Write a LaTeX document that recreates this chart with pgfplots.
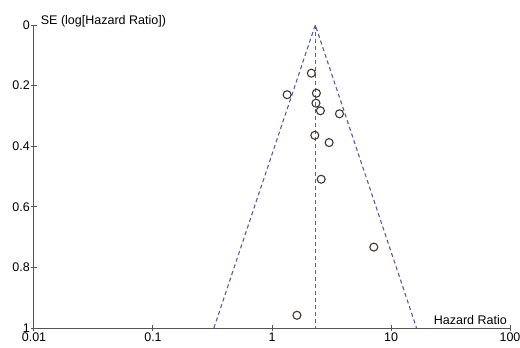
\documentclass[border=0pt]{standalone}
\usepackage{fontspec}
\setmainfont{Liberation Sans}
\usepackage{pgfplots}
\pgfplotsset{compat=1.18}
\definecolor{ptcol}{HTML}{3F3935}
\definecolor{lncol}{HTML}{5B58A8}
\definecolor{axcol}{HTML}{555555}
\begin{document}
\begin{tikzpicture}
\path[use as bounding box] (-34bp,-20bp) rectangle (486bp,328bp);
\begin{axis}[
  at={(0,0)}, anchor=south west,
  scale only axis, width=476bp, height=303bp,
  xmode=log, xmin=0.01, xmax=100,
  ymin=0, ymax=1, y dir=reverse,
  axis x line=bottom, axis y line=left,
  axis line style={-, draw=axcol, line width=1bp},
  xtick={0.01,0.1,1,10,100},
  xticklabels={0.01,0.1,1,10,100},
  ytick={0,0.2,0.4,0.6,0.8,1},
  yticklabels={0,0.2,0.4,0.6,0.8,1},
  xminorticks=false,
  tick align=center, major tick length=6bp,
  tick style={draw=axcol, line width=1bp},
  /pgf/number format/assume math mode=true,
  ticklabel style={font=\fontsize{12.5bp}{14bp}\selectfont, text=black},
  xticklabel style={inner sep=0bp, yshift=-2bp},
  yticklabel style={inner sep=0bp, xshift=-1bp},
  clip=false,
]
\addplot[lncol, line width=1.1bp, dash pattern=on 4bp off 3bp] coordinates {(0.325,1) (2.31,0) (16.40,1)};
\addplot[lncol, line width=1.1bp, dash pattern=on 4bp off 3bp] coordinates {(2.31,0) (2.31,1)};
\addplot[only marks, mark=o, mark size=4bp, mark options={draw=ptcol, line width=1.1bp}] coordinates {
(2.14,0.159)
(1.34,0.230)
(2.36,0.225)
(2.34,0.258)
(2.55,0.283)
(3.69,0.293)
(2.29,0.364)
(3.02,0.388)
(2.59,0.509)
(7.17,0.733)
(1.62,0.958)
};
\node[anchor=base west, inner sep=0pt, font=\fontsize{12.5bp}{14bp}\selectfont] at ([xshift=6.7bp, yshift=0.5bp]rel axis cs:0,1) {SE (log[Hazard Ratio])};
\node[anchor=base east, inner sep=0pt, font=\fontsize{12.5bp}{14bp}\selectfont] at ([xshift=-3bp, yshift=4bp]rel axis cs:1,0) {Hazard Ratio};
\end{axis}
\end{tikzpicture}
\end{document}
